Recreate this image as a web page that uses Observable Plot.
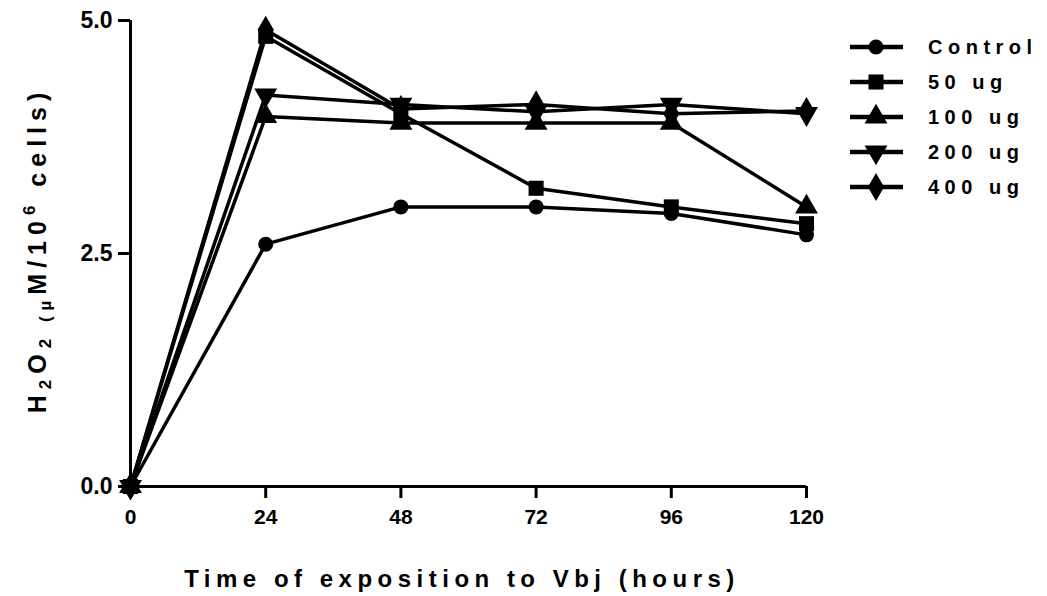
<!DOCTYPE html>
<html>
<head>
<meta charset="utf-8">
<script src="https://cdn.jsdelivr.net/npm/d3@7"></script>
<script src="https://cdn.jsdelivr.net/npm/@observablehq/plot@0.6"></script>
<style>
  html, body { margin: 0; padding: 0; background: #fff; }
  #chart svg text { font-family: Arial, "Liberation Sans", sans-serif; font-weight: bold; }
</style>
</head>
<body>
<div id="chart"></div>
<script>
// ---- data ----
const hours = [0, 24, 48, 72, 96, 120];
const seriesNames = ["Control", "50 ug", "100 ug", "200 ug", "400 ug"];
const control = [0, 2.6, 3.0, 3.0, 2.93, 2.7];
const ug50 = [0, 4.83, 4.0, 3.2, 3.0, 2.82];
const ug100 = [0, 3.97, 3.9, 3.9, 3.9, 3.0];
const ug200 = [0, 4.2, 4.1, 4.02, 4.1, 4.0];
const ug400 = [0, 4.9, 4.05, 4.1, 4.0, 4.03];
const xTicks = [0, 24, 48, 72, 96, 120];
const yTicks = [0, 2.5, 5.0];

const seriesValues = [control, ug50, ug100, ug200, ug400];
const data = seriesNames.flatMap((name, i) =>
  hours.map((h, j) => ({series: name, hour: h, value: seriesValues[i][j]})));

const invTriangle = {
  draw(context, size) {
    const sqrt3 = Math.sqrt(3);
    const y = -Math.sqrt(size / (sqrt3 * 3));
    context.moveTo(0, -y * 2);
    context.lineTo(-sqrt3 * y, y);
    context.lineTo(sqrt3 * y, y);
    context.closePath();
  }
};
const symbols = [d3.symbolCircle, d3.symbolSquare, d3.symbolTriangle, invTriangle, d3.symbolDiamond];
const radii = [7.5, 8.5, 8.5, 8.5, 8.5];

const marks = [];
seriesNames.forEach((name, i) => {
  const d = data.filter(r => r.series === name);
  marks.push(Plot.line(d, {x: "hour", y: "value", stroke: "#000", strokeWidth: 3.5}));
});
seriesNames.forEach((name, i) => {
  const d = data.filter(r => r.series === name);
  marks.push(Plot.dot(d, {x: "hour", y: "value", symbol: symbols[i], r: radii[i], fill: "#000", stroke: "none"}));
});

const yFmt = d3.format(".1f");
const chart = Plot.plot({
  width: 1047,
  height: 596,
  marginLeft: 130,
  marginRight: 241,
  marginTop: 20,
  marginBottom: 110,
  style: {fontFamily: "Arial, 'Liberation Sans', sans-serif", background: "#fff", color: "#000"},
  x: {domain: [0, 120]},
  y: {domain: [0, 5]},
  marks: [
    Plot.axisX({ticks: xTicks, tickSize: 12, tickPadding: 11, strokeWidth: 3, fontSize: 21, fontWeight: "bold", label: null}),
    Plot.axisY({ticks: yTicks, tickSize: 12, strokeWidth: 3, tickFormat: () => "", label: null}),
    Plot.text(yTicks, {y: d => d, frameAnchor: "left", dx: -18, textAnchor: "end", text: yFmt,
      fontSize: 23, fontWeight: "bold", fill: "#000"}),
    Plot.ruleY([0], {stroke: "#000", strokeWidth: 3}),
    Plot.ruleX([0], {stroke: "#000", strokeWidth: 3}),
    ...marks
  ]
});
document.getElementById("chart").appendChild(chart);

const svg = d3.select(chart);

// ---- titles ----
svg.append("text")
  .attr("x", 462).attr("y", 587)
  .attr("text-anchor", "middle")
  .style("font-size", "24px")
  .style("letter-spacing", "5.5px")
  .text("Time of exposition to Vbj (hours)");

const yl = svg.append("text")
  .attr("transform", "translate(46,250) rotate(-90)")
  .attr("text-anchor", "middle")
  .style("font-size", "25px")
  .style("letter-spacing", "6px");
yl.append("tspan").text("H");
yl.append("tspan").style("font-size", "17px").attr("dy", 5).text("2");
yl.append("tspan").attr("dy", -5).text("O");
yl.append("tspan").style("font-size", "17px").attr("dy", 5).text("2 (µ");
yl.append("tspan").attr("dy", -5).text("M/10");
yl.append("tspan").style("font-size", "17px").attr("dy", -11).text("6");
yl.append("tspan").attr("dy", 11).text(" cells)");

// ---- legend ----
const leg = svg.append("g");
seriesNames.forEach((name, i) => {
  const cy = 47 + i * 35;
  leg.append("line").attr("x1", 850).attr("x2", 903).attr("y1", cy).attr("y2", cy)
    .attr("stroke", "#000").attr("stroke-width", 4.5);
  leg.append("path").attr("transform", `translate(876,${cy})`)
    .attr("d", d3.symbol(symbols[i], Math.PI * radii[i] * radii[i])()).attr("fill", "#000");
  leg.append("text").attr("x", 928).attr("y", cy).attr("dy", "0.35em")
    .attr("text-anchor", "start")
    .style("font-size", "20px")
    .style("letter-spacing", "5.5px")
    .text(name);
});
</script>
</body>
</html>
